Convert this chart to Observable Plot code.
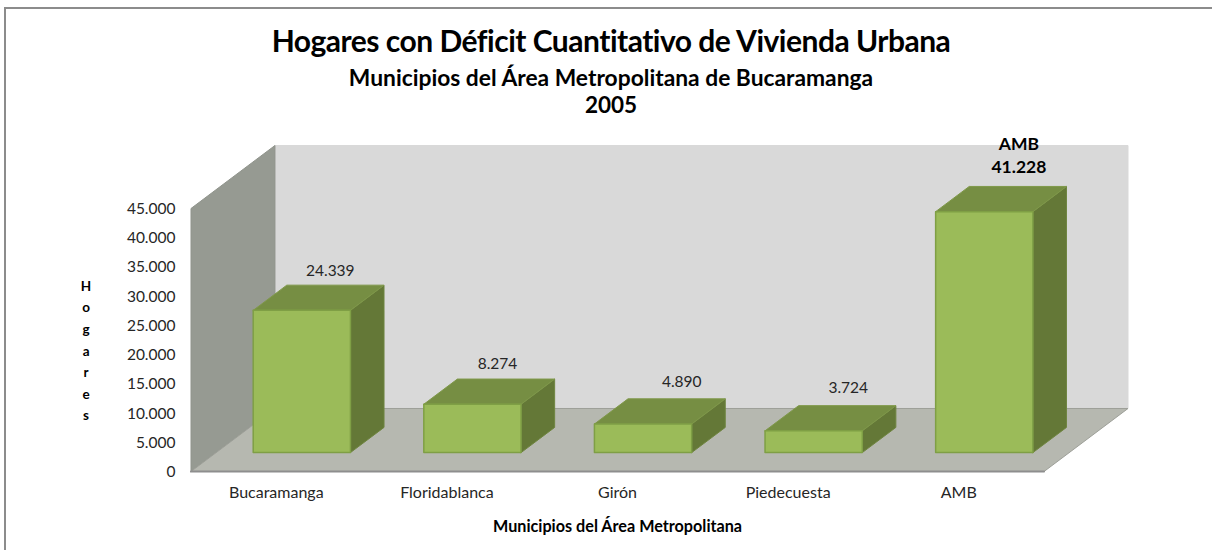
<!DOCTYPE html>
<html><head><meta charset="utf-8">
<script src="https://cdn.jsdelivr.net/npm/d3@7"></script>
<script src="https://cdn.jsdelivr.net/npm/@observablehq/plot@0.6"></script>
<style>
html,body{margin:0;padding:0;background:#fff;width:1212px;height:550px;overflow:hidden}
#frame{position:absolute;left:4px;top:7px;width:1208px;height:543px;border-left:2px solid #8c8c8c;border-top:2px solid #8c8c8c;box-sizing:border-box}
.t{position:absolute;left:0;width:1222px;text-align:center;font-family:Lato,sans-serif;font-weight:700;color:#000;white-space:nowrap}
#t1{top:21px;font-size:30px;line-height:38px;letter-spacing:-0.5px}
#t2{top:64px;font-size:22.8px;line-height:26px;}
#t3{top:92px;font-size:22.5px;line-height:26px;}
#chart{position:absolute;left:0;top:130px}
svg{display:block}
</style></head><body>
<div id="frame"></div>
<div class="t" id="t1">Hogares con Déficit Cuantitativo de Vivienda Urbana</div>
<div class="t" id="t2">Municipios del Área Metropolitana de Bucaramanga</div>
<div class="t" id="t3">2005</div>
<div id="chart"></div>
<script>
const categories = ["Bucaramanga","Floridablanca","Girón","Piedecuesta","AMB"];
const hogares = [24339, 8274, 4890, 3724, 41228];
const yTicks = [0,5000,10000,15000,20000,25000,30000,35000,40000,45000];
const valueLabels = ["24.339","8.274","4.890","3.724","41.228"];

// oblique projection of the 3-D box: depth z in 0..1 shifts x and y in data units
const DX = 0.492, DY = 10780;
const n = categories.length, yMax = 45000;
const px = (i, z) => i + z * DX;
const py = (v, z) => v + z * DY;
const poly = pts => { const c = pts.map(([x,v,z]) => ({x: px(x,z), y: py(v,z)})); c.push(c[0]); return c; };

const barInset = 0.217, barW = 0.57, z0 = 0.3, z1 = 0.7;
const boxes = hogares.map((v,i) => ({i, v, l: i + barInset, r: i + barInset + barW}));
const faces = f => boxes.flatMap(b => f(b).map(p => ({...p, key: b.i})));
const frontFaces = faces(b => poly([[b.l,0,z0],[b.r,0,z0],[b.r,b.v,z0],[b.l,b.v,z0]]));
const topFaces = faces(b => poly([[b.l,b.v,z0],[b.r,b.v,z0],[b.r,b.v,z1],[b.l,b.v,z1]]));
const sideFaces = faces(b => poly([[b.r,0,z0],[b.r,0,z1],[b.r,b.v,z1],[b.r,b.v,z0]]));

const backWall = poly([[0,0,1],[n,0,1],[n,yMax,1],[0,yMax,1]]);
const leftWall = poly([[0,0,0],[0,0,1],[0,yMax,1],[0,yMax,0]]);
const floorFace = poly([[0,0,0],[n,0,0],[n,0,1],[0,0,1]]);
const frontEdge = [{x:0,y:0},{x:n,y:0}];

const face = (d, fill, stroke, w=1) => Plot.line(d, {x:"x", y:"y", z:"key", fill, stroke, strokeWidth:w, curve:"linear"});
const labelShift = [[-0.03,14],[-0.05,15],[0.03,17],[0.006,17.5],[0.006,19]];
const labels = boxes.map((b,k) => ({
  x: px(b.l + barW/2, z1) + labelShift[k][0],
  y: py(b.v, z1) + labelShift[k][1]/0.005844,
  text: valueLabels[k], bold: k === n-1
}));

const chart = Plot.plot({
  width:1212, height:420,
  marginLeft:190.5, marginRight:84.5, marginTop:15, marginBottom:79,
  style:{background:"transparent", fontFamily:"Lato,sans-serif", color:"#262626"},
  x:{domain:[0,n+DX], axis:null},
  y:{domain:[0,yMax+DY], axis:null},
  marks:[
    face(backWall.map(p=>({...p,key:0})), "#d9d9d9", "#d9d9d9"),
    face(leftWall.map(p=>({...p,key:0})), "#969a92", "#8f938b"),
    face(floorFace.map(p=>({...p,key:0})), "#b6b8b0", "#9d9f98"),
    Plot.line(frontEdge,{x:"x",y:"y",stroke:"#8e8e8e",strokeWidth:2}),
    face(sideFaces, "#647837", "#6f8540"),
    face(topFaces, "#768e43", "#7f9849"),
    face(frontFaces, "#9bbb59", "#7f9f45", 1.5),
    Plot.axisY({ticks:yTicks, tickSize:0, tickPadding:15.5, dy:0.5, fontSize:15.5, label:null, tickFormat:d=>d3.format(",")(d).replace(/,/g,".")}),
    Plot.axisX({ticks:categories.map((_,i)=>i+0.5), tickSize:0, tickPadding:15, fontSize:16, label:null, tickFormat:d=>categories[d-0.5]}),
    Plot.text(labels.filter(d=>!d.bold),{x:"x",y:"y",text:"text",fontSize:15.5,fill:"#262626"}),
    Plot.text(labels.filter(d=>d.bold),{x:"x",y:"y",text:"text",fontSize:17.5,fontWeight:700,fill:"#000"}),
    Plot.text(labels.filter(d=>d.bold),{x:"x",y:"y",text:()=>categories[n-1],dy:-23,fontSize:17.5,fontWeight:700,fill:"#000"}),
    Plot.text(["Municipios del Área Metropolitana"],{x:()=>n/2,frameAnchor:"bottom",dy:60,fontSize:16.2,fontWeight:700,fill:"#000"}),
    Plot.text(["H\no\ng\na\nr\ne\ns"],{x:()=>-0.615,y:()=>21000,fontSize:13.5,fontWeight:700,fill:"#000",lineHeight:1.6})
  ]
});
document.getElementById("chart").appendChild(chart);
</script>
</body></html>
